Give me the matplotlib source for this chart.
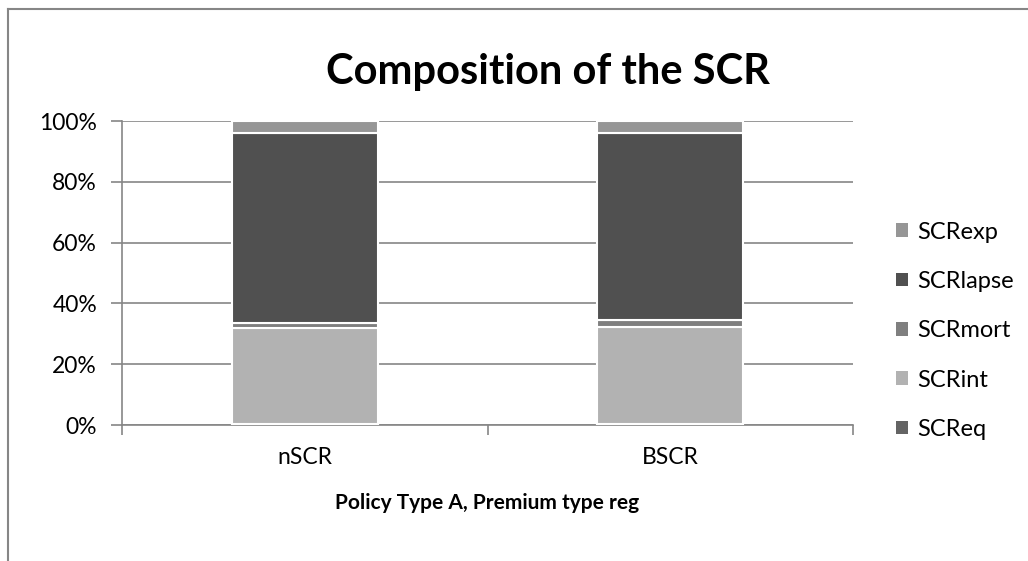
import matplotlib.pyplot as plt
import numpy as np
from matplotlib.lines import Line2D

plt.rcParams["font.family"] = ["Lato", "DejaVu Sans"]

# Data (shares of the SCR, in %)
categories = ["nSCR", "BSCR"]
series_names = ["SCReq", "SCRint", "SCRmort", "SCRlapse", "SCRexp"]
scr_eq = [0.2, 0.2]
scr_int = [31.7, 32.1]
scr_mort = [1.6, 2.4]
scr_lapse = [62.5, 61.5]
scr_exp = [4.0, 3.8]
colors = {
    "SCReq": "#646464",
    "SCRint": "#b2b2b2",
    "SCRmort": "#7f7f7f",
    "SCRlapse": "#505050",
    "SCRexp": "#969696",
}

values = [scr_eq, scr_int, scr_mort, scr_lapse, scr_exp]
totals = np.sum(values, axis=0)

fig = plt.figure(figsize=(10.28, 5.61), dpi=100)
ax = fig.add_axes([0.1187, 0.2424, 0.7111, 0.5419])

x = np.arange(len(categories))
bottom = np.zeros(len(categories))
handles = []
for name, vals in zip(series_names, values):
    share = np.array(vals) / totals * 100
    bars = ax.bar(x, share, width=0.4, bottom=bottom, color=colors[name],
                  edgecolor="white", linewidth=1.5, label=name, zorder=3)
    handles.append(bars)
    bottom += share

ax.set_xlim(-0.5, 1.5)
ax.set_ylim(0, 100)
ax.set_yticks(np.arange(0, 101, 20))
ax.set_yticklabels([f"{v}%" for v in range(0, 101, 20)], fontsize=16.5)
ax.yaxis.grid(True, color="#868686", linewidth=1.2, zorder=0)
ax.tick_params(axis="y", length=8, color="#868686", width=1.2, pad=10)

ax.set_xticks(x)
ax.set_xticklabels(categories, fontsize=16.5)
ax.set_xticks([-0.5, 0.5, 1.5], minor=True)
ax.tick_params(axis="x", which="major", length=0, pad=16)
ax.tick_params(axis="x", which="minor", length=7, color="#868686", width=1.2)

for side in ["top", "right"]:
    ax.spines[side].set_visible(False)
for side in ["left", "bottom"]:
    ax.spines[side].set_color("#868686")
    ax.spines[side].set_linewidth(1.2)

ax.set_xlabel("Policy Type A, Premium type reg", fontsize=15,
              fontweight="bold", labelpad=18)
fig.text(0.533, 0.872, "Composition of the SCR", fontsize=30,
         fontweight="bold", ha="center", va="center")

leg = ax.legend(handles[::-1], series_names[::-1], loc="center left",
                bbox_to_anchor=(1.059, 0.31), frameon=False, fontsize=17,
                borderpad=0, borderaxespad=0,
                handlelength=0.5, handleheight=0.5, handletextpad=0.4,
                labelspacing=1.2)
for patch in leg.get_patches():
    patch.set_edgecolor("none")

# chart frame (cropped at right and bottom)
fig.add_artist(Line2D([7.5 / 1028, 7.5 / 1028], [0, 1 - 9 / 561],
                      color="#868686", linewidth=1.5))
fig.add_artist(Line2D([7.5 / 1028, 1], [1 - 9 / 561, 1 - 9 / 561],
                      color="#868686", linewidth=1.5))

fig.savefig("out.png", dpi=100)
